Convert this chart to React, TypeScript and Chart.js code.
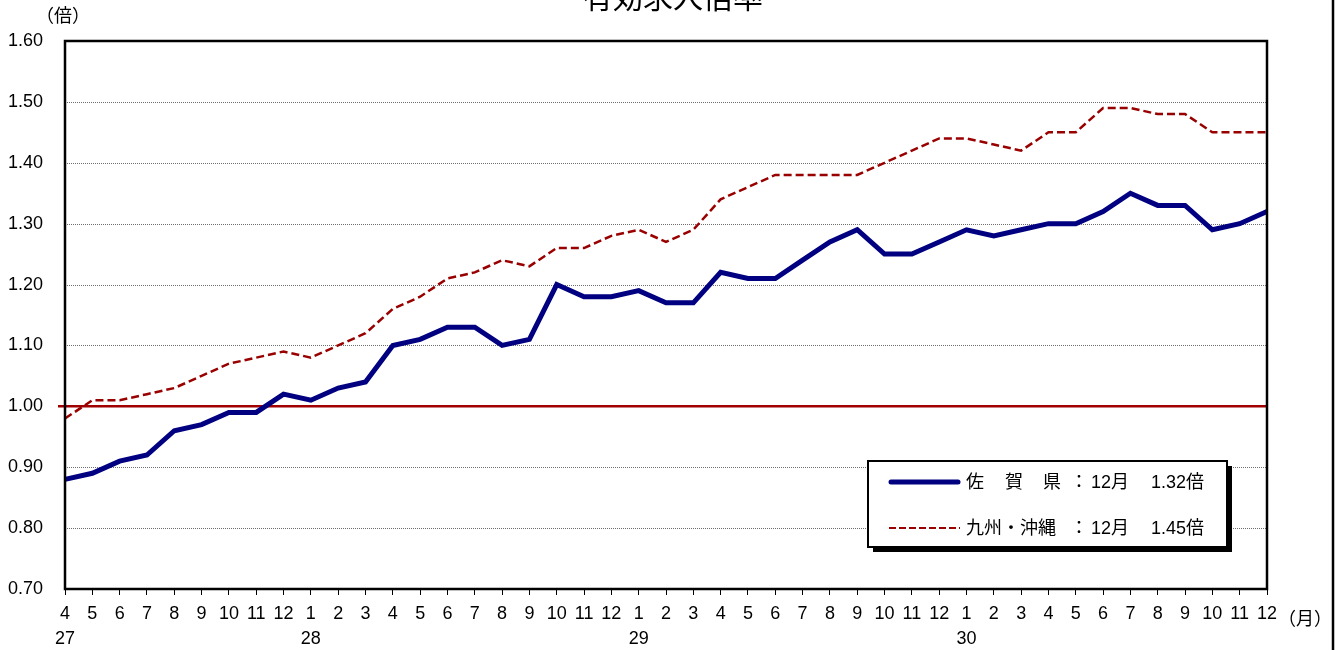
import React, { useEffect, useRef } from 'react';
import { Chart, registerables } from 'chart.js';

Chart.register(...registerables);

const monthLabels: string[] = [
  '4', '5', '6', '7', '8', '9', '10', '11', '12',
  '1', '2', '3', '4', '5', '6', '7', '8', '9', '10', '11', '12',
  '1', '2', '3', '4', '5', '6', '7', '8', '9', '10', '11', '12',
  '1', '2', '3', '4', '5', '6', '7', '8', '9', '10', '11', '12',
];

const yearLabels: string[] = [
  '27', '', '', '', '', '', '', '', '',
  '28', '', '', '', '', '', '', '', '', '', '', '',
  '29', '', '', '', '', '', '', '', '', '', '', '',
  '30', '', '', '', '', '', '', '', '', '', '', '',
];

const sagaValues: number[] = [
  0.88, 0.89, 0.91, 0.92, 0.96, 0.97, 0.99, 0.99, 1.02,
  1.01, 1.03, 1.04, 1.10, 1.11, 1.13, 1.13, 1.10, 1.11, 1.20, 1.18, 1.18,
  1.19, 1.17, 1.17, 1.22, 1.21, 1.21, 1.24, 1.27, 1.29, 1.25, 1.25, 1.27,
  1.29, 1.28, 1.29, 1.30, 1.30, 1.32, 1.35, 1.33, 1.33, 1.29, 1.30, 1.32,
];

const kyushuValues: number[] = [
  0.98, 1.01, 1.01, 1.02, 1.03, 1.05, 1.07, 1.08, 1.09,
  1.08, 1.10, 1.12, 1.16, 1.18, 1.21, 1.22, 1.24, 1.23, 1.26, 1.26, 1.28,
  1.29, 1.27, 1.29, 1.34, 1.36, 1.38, 1.38, 1.38, 1.38, 1.40, 1.42, 1.44,
  1.44, 1.43, 1.42, 1.45, 1.45, 1.49, 1.49, 1.48, 1.48, 1.45, 1.45, 1.45,
];

const titleText = '有効求人倍率';
const yUnit = '（倍）';
const xUnit = '（月）';
const referenceValue = 1.0;
const yMin = 0.7;
const yMax = 1.6;
const yStep = 0.1;

const legendSaga = ['佐', '賀', '県', '：', '12月', '1.32倍'];
const legendKyushu = ['九州・沖縄', '：', '12月', '1.45倍'];

const BLUE = '#000080';
const RED = '#990000';
const FONT = "'Liberation Sans', 'Noto Sans CJK JP', sans-serif";
const JFONT = "'Noto Sans CJK JP', 'Liberation Sans', sans-serif";

const decorPlugin = {
  id: 'decor',
  beforeDatasetsDraw(chart: any) {
    const { ctx, chartArea: a, scales } = chart;
    const y = scales.y;
    ctx.save();
    // dotted grid lines
    ctx.strokeStyle = '#6e6e6e';
    ctx.lineWidth = 1;
    ctx.setLineDash([1, 1]);
    y.ticks.forEach((t: any) => {
      if (t.value <= yMin + 1e-6 || t.value >= yMax - 1e-6) return;
      const py = Math.round(y.getPixelForValue(t.value)) + 0.5;
      ctx.beginPath();
      ctx.moveTo(a.left, py);
      ctx.lineTo(a.right, py);
      ctx.stroke();
    });
    ctx.setLineDash([]);
    // reference line at 1.00
    const ry = y.getPixelForValue(referenceValue);
    ctx.strokeStyle = '#a00000';
    ctx.lineWidth = 2.5;
    ctx.beginPath();
    ctx.moveTo(a.left - 7, ry);
    ctx.lineTo(a.right, ry);
    ctx.stroke();
    ctx.restore();
  },
  afterDatasetsDraw(chart: any) {
    const { ctx, chartArea: a } = chart;
    ctx.save();
    // frame
    ctx.strokeStyle = '#000';
    ctx.lineWidth = 2.5;
    ctx.strokeRect(a.left, a.top, a.right - a.left, a.bottom - a.top);

    // outer right line
    ctx.lineWidth = 2.5;
    ctx.beginPath();
    ctx.moveTo(1333, 0);
    ctx.lineTo(1333, 650);
    ctx.stroke();

    // title
    ctx.fillStyle = '#000';
    ctx.font = `30px ${JFONT}`;
    ctx.textAlign = 'center';
    ctx.textBaseline = 'alphabetic';
    ctx.fillText(titleText, 673, 8);

    // units
    ctx.font = `18px ${JFONT}`;
    ctx.textAlign = 'left';
    ctx.textBaseline = 'middle';
    ctx.fillText(yUnit, 36, 15);
    ctx.fillText(xUnit, 1278, 618);

    // legend box
    const lx = 868, ly = 461, lw = 359, lh = 86;
    ctx.fillStyle = '#000';
    ctx.fillRect(lx + 5, ly + 5, lw, lh);
    ctx.fillStyle = '#fff';
    ctx.fillRect(lx, ly, lw, lh);
    ctx.strokeStyle = '#000';
    ctx.lineWidth = 2;
    ctx.strokeRect(lx, ly, lw, lh);

    // legend lines
    ctx.lineCap = 'round';
    ctx.strokeStyle = BLUE;
    ctx.lineWidth = 5;
    ctx.beginPath();
    ctx.moveTo(891, 482);
    ctx.lineTo(958, 482);
    ctx.stroke();
    ctx.lineCap = 'butt';
    ctx.strokeStyle = RED;
    ctx.lineWidth = 2;
    ctx.setLineDash([7, 3]);
    ctx.beginPath();
    ctx.moveTo(889, 528);
    ctx.lineTo(960, 528);
    ctx.stroke();
    ctx.setLineDash([]);

    // legend text
    ctx.fillStyle = '#000';
    ctx.font = `18px ${FONT}`;
    ctx.textAlign = 'left';
    ctx.textBaseline = 'middle';
    const sx = [966, 1005, 1043, 1070, 1091, 1151];
    legendSaga.forEach((s, i) => ctx.fillText(s, sx[i], 483));
    const kx = [966, 1070, 1091, 1151];
    legendKyushu.forEach((s, i) => ctx.fillText(s, kx[i], 529));
    ctx.restore();
  },
};

export default function App() {
  const canvasRef = useRef<HTMLCanvasElement | null>(null);

  useEffect(() => {
    if (!canvasRef.current) return;
    const labels = monthLabels.map((m, i) => [m, yearLabels[i]]);
    const chart = new Chart(canvasRef.current, {
      type: 'line',
      data: {
        labels,
        datasets: [
          {
            label: '九州・沖縄',
            data: kyushuValues,
            borderColor: RED,
            borderWidth: 2.5,
            borderDash: [8, 4],
            pointRadius: 0,
            tension: 0,
            fill: false,
          },
          {
            label: '佐賀県',
            data: sagaValues,
            borderColor: BLUE,
            borderWidth: 5,
            pointRadius: 0,
            tension: 0,
            fill: false,
          },
        ],
      },
      options: {
        responsive: false,
        animation: false,
        devicePixelRatio: 1,
        layout: { padding: { top: 41, right: 71, left: 0, bottom: 0 } },
        plugins: {
          legend: { display: false },
          tooltip: { enabled: false },
          title: { display: false },
        },
        scales: {
          x: {
            type: 'category',
            offset: false,
            border: { display: false },
            grid: {
              display: true,
              drawOnChartArea: false,
              drawTicks: true,
              tickLength: 6,
              color: 'rgba(0,0,0,0)',
              tickColor: '#000',
              lineWidth: 1,
            },
            ticks: {
              autoSkip: false,
              maxRotation: 0,
              minRotation: 0,
              padding: 7,
              color: '#000',
              font: { family: FONT, size: 18, lineHeight: 1.36 },
            },
            afterFit: (s: any) => {
              s.height = 61;
            },
          },
          y: {
            min: yMin,
            max: yMax,
            border: { display: false },
            grid: { display: false, drawTicks: false },
            ticks: {
              stepSize: yStep,
              padding: 22,
              color: '#000',
              font: { family: FONT, size: 18 },
              callback: (v: any) => Number(v).toFixed(2),
            },
            afterFit: (s: any) => {
              s.width = 65;
            },
          },
        },
      },
      plugins: [decorPlugin],
    });
    return () => chart.destroy();
  }, []);

  return (
    <div style={{ position: 'fixed', left: 0, top: 0, width: 1338, height: 650, background: '#fff' }}>
      <canvas ref={canvasRef} width={1338} height={650} style={{ display: 'block' }} />
    </div>
  );
}
